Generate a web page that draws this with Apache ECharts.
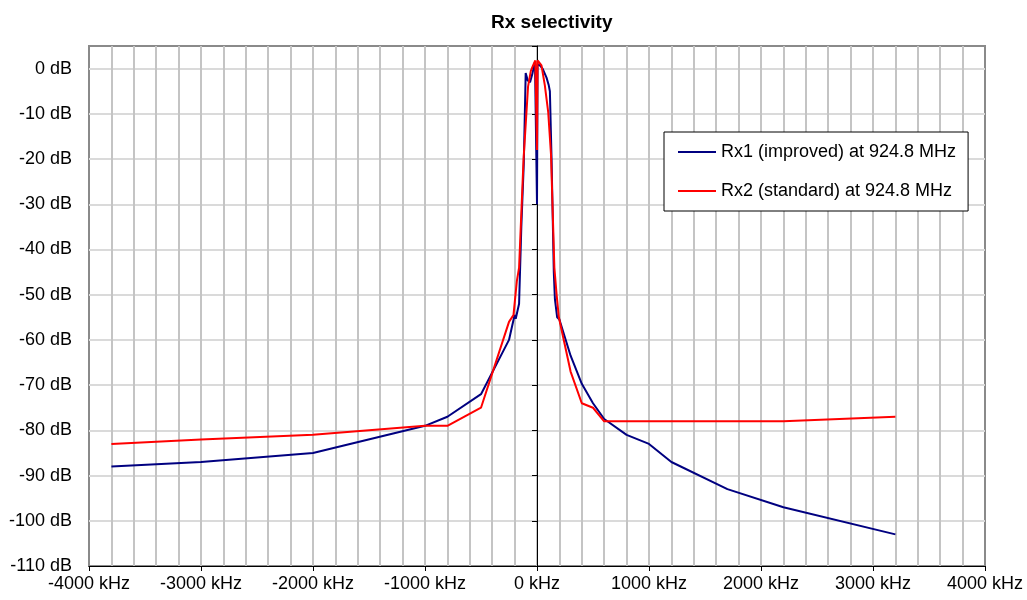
<!DOCTYPE html>
<html>
<head>
<meta charset="utf-8">
<script src="https://cdn.jsdelivr.net/npm/echarts@6/dist/echarts.min.js"></script>
<style>
html,body{margin:0;padding:0;background:#fff;}
#chart{width:1027px;height:600px;}
</style>
</head>
<body>
<div id="chart"></div>
<script>
// ---- data ----
const titleText = 'Rx selectivity';
const rx1Name = 'Rx1 (improved) at 924.8 MHz';
const rx2Name = 'Rx2 (standard) at 924.8 MHz';

const rx1Freq = [-3800,-3000,-2000,-1000,-800,-500,-250,-200,-190,-160,-140,-118,-101,-83,-62,-40,-18,-5,0,5,25,50,85,105,115,130,150,160,180,200,300,400,500,600,800,1000,1200,1700,2200,3200];
const rx1Db   = [-88,-87,-85,-79,-77,-72,-60,-54.5,-55.3,-52,-35,-21,-1,-2.6,-3,-1,1.5,1.5,-30,1,0.7,0,-2,-3.7,-5,-20,-45,-51,-55,-55.5,-63.5,-69.7,-74,-77.5,-81,-83,-87,-93,-97,-103];

const rx2Freq = [-3800,-3000,-2000,-1000,-800,-500,-250,-210,-180,-160,-120,-80,-55,-35,-15,-5,0,5,15,40,70,100,125,155,175,195,300,400,500,600,2200,3200];
const rx2Db   = [-83,-82,-81,-79,-79,-75,-56,-54.5,-47,-44,-20,-4,-0.5,0.7,1.8,1.8,-18,1.8,1.8,0.7,-3.7,-9.6,-19,-44,-50,-55,-67,-74,-75,-78,-78,-77];

const xTicks = { min: -4000, max: 4000, interval: 1000, minorSplit: 5 };
const yTicks = { min: -110, max: 5, interval: 10 };

// ---- chart ----
const FONT = '"Liberation Sans", Arial, sans-serif';
const pairs = (xs, ys) => xs.map((x, i) => [x, ys[i]]);

const chart = echarts.init(document.getElementById('chart'), null, { renderer: 'canvas' });
chart.setOption({
  animation: false,
  backgroundColor: '#ffffff',
  textStyle: { fontFamily: FONT },
  title: {
    text: titleText,
    left: 486,
    top: 8,
    textStyle: { fontFamily: FONT, fontSize: 19, fontWeight: 'bold', color: '#000' }
  },
  grid: {
    left: 89, right: 42, top: 46, bottom: 34,
    show: true, borderColor: '#8a8a8a', borderWidth: 2, backgroundColor: 'transparent'
  },
  legend: {
    orient: 'vertical',
    left: 664, top: 132,
    backgroundColor: '#fff',
    borderColor: '#000', borderWidth: 1, borderRadius: 0,
    padding: [11, 12, 11, 13],
    itemWidth: 38, itemHeight: 18, itemGap: 21, itemTextGap: 5,
    itemStyle: { opacity: 0, borderWidth: 0 },
    lineStyle: { width: 2 },
    textStyle: { fontFamily: FONT, fontSize: 18, color: '#000' },
    data: [rx1Name, rx2Name]
  },
  xAxis: {
    type: 'value',
    min: xTicks.min, max: xTicks.max, interval: xTicks.interval,
    axisLine: { onZero: false, lineStyle: { color: '#000', width: 1 } },
    axisTick: { show: true, length: 5, lineStyle: { color: '#000' } },
    axisLabel: { fontFamily: FONT, fontSize: 18, color: '#000', margin: 9, formatter: v => v + ' kHz' },
    splitLine: { show: true, showMinLine: false, showMaxLine: false, lineStyle: { color: '#c4c4c4', width: 2 } },
    minorTick: { show: false, splitNumber: xTicks.minorSplit },
    minorSplitLine: { show: true, lineStyle: { color: '#c4c4c4', width: 2 } }
  },
  yAxis: [
    {
      type: 'value', position: 'left',
      min: yTicks.min, max: yTicks.max, interval: yTicks.interval,
      axisLine: { show: false, onZero: false },
      axisTick: { show: false },
      axisLabel: { fontFamily: FONT, fontSize: 18, color: '#000', margin: 17, showMaxLabel: false,
                   formatter: v => (v > 0 ? '' : v + ' dB') },
      splitLine: { show: true, showMinLine: false, showMaxLine: false, lineStyle: { color: '#dadada', width: 2 } }
    },
    {
      type: 'value', position: 'left',
      min: yTicks.min, max: yTicks.max, interval: yTicks.interval,
      axisLine: { show: true, onZero: true, lineStyle: { color: '#000', width: 1 } },
      axisTick: { show: true, inside: false, length: 5, lineStyle: { color: '#000' } },
      axisLabel: { show: false },
      splitLine: { show: false }
    }
  ],
  series: [
    {
      name: rx1Name, type: 'line', yAxisIndex: 0,
      data: pairs(rx1Freq, rx1Db),
      symbol: 'none', smooth: false,
      lineStyle: { color: '#000080', width: 2 },
      itemStyle: { color: '#000080' },
      z: 3
    },
    {
      name: rx2Name, type: 'line', yAxisIndex: 0,
      data: pairs(rx2Freq, rx2Db),
      symbol: 'none', smooth: false,
      lineStyle: { color: '#ff0000', width: 2 },
      itemStyle: { color: '#ff0000' },
      z: 4
    }
  ]
});
</script>
</body>
</html>
